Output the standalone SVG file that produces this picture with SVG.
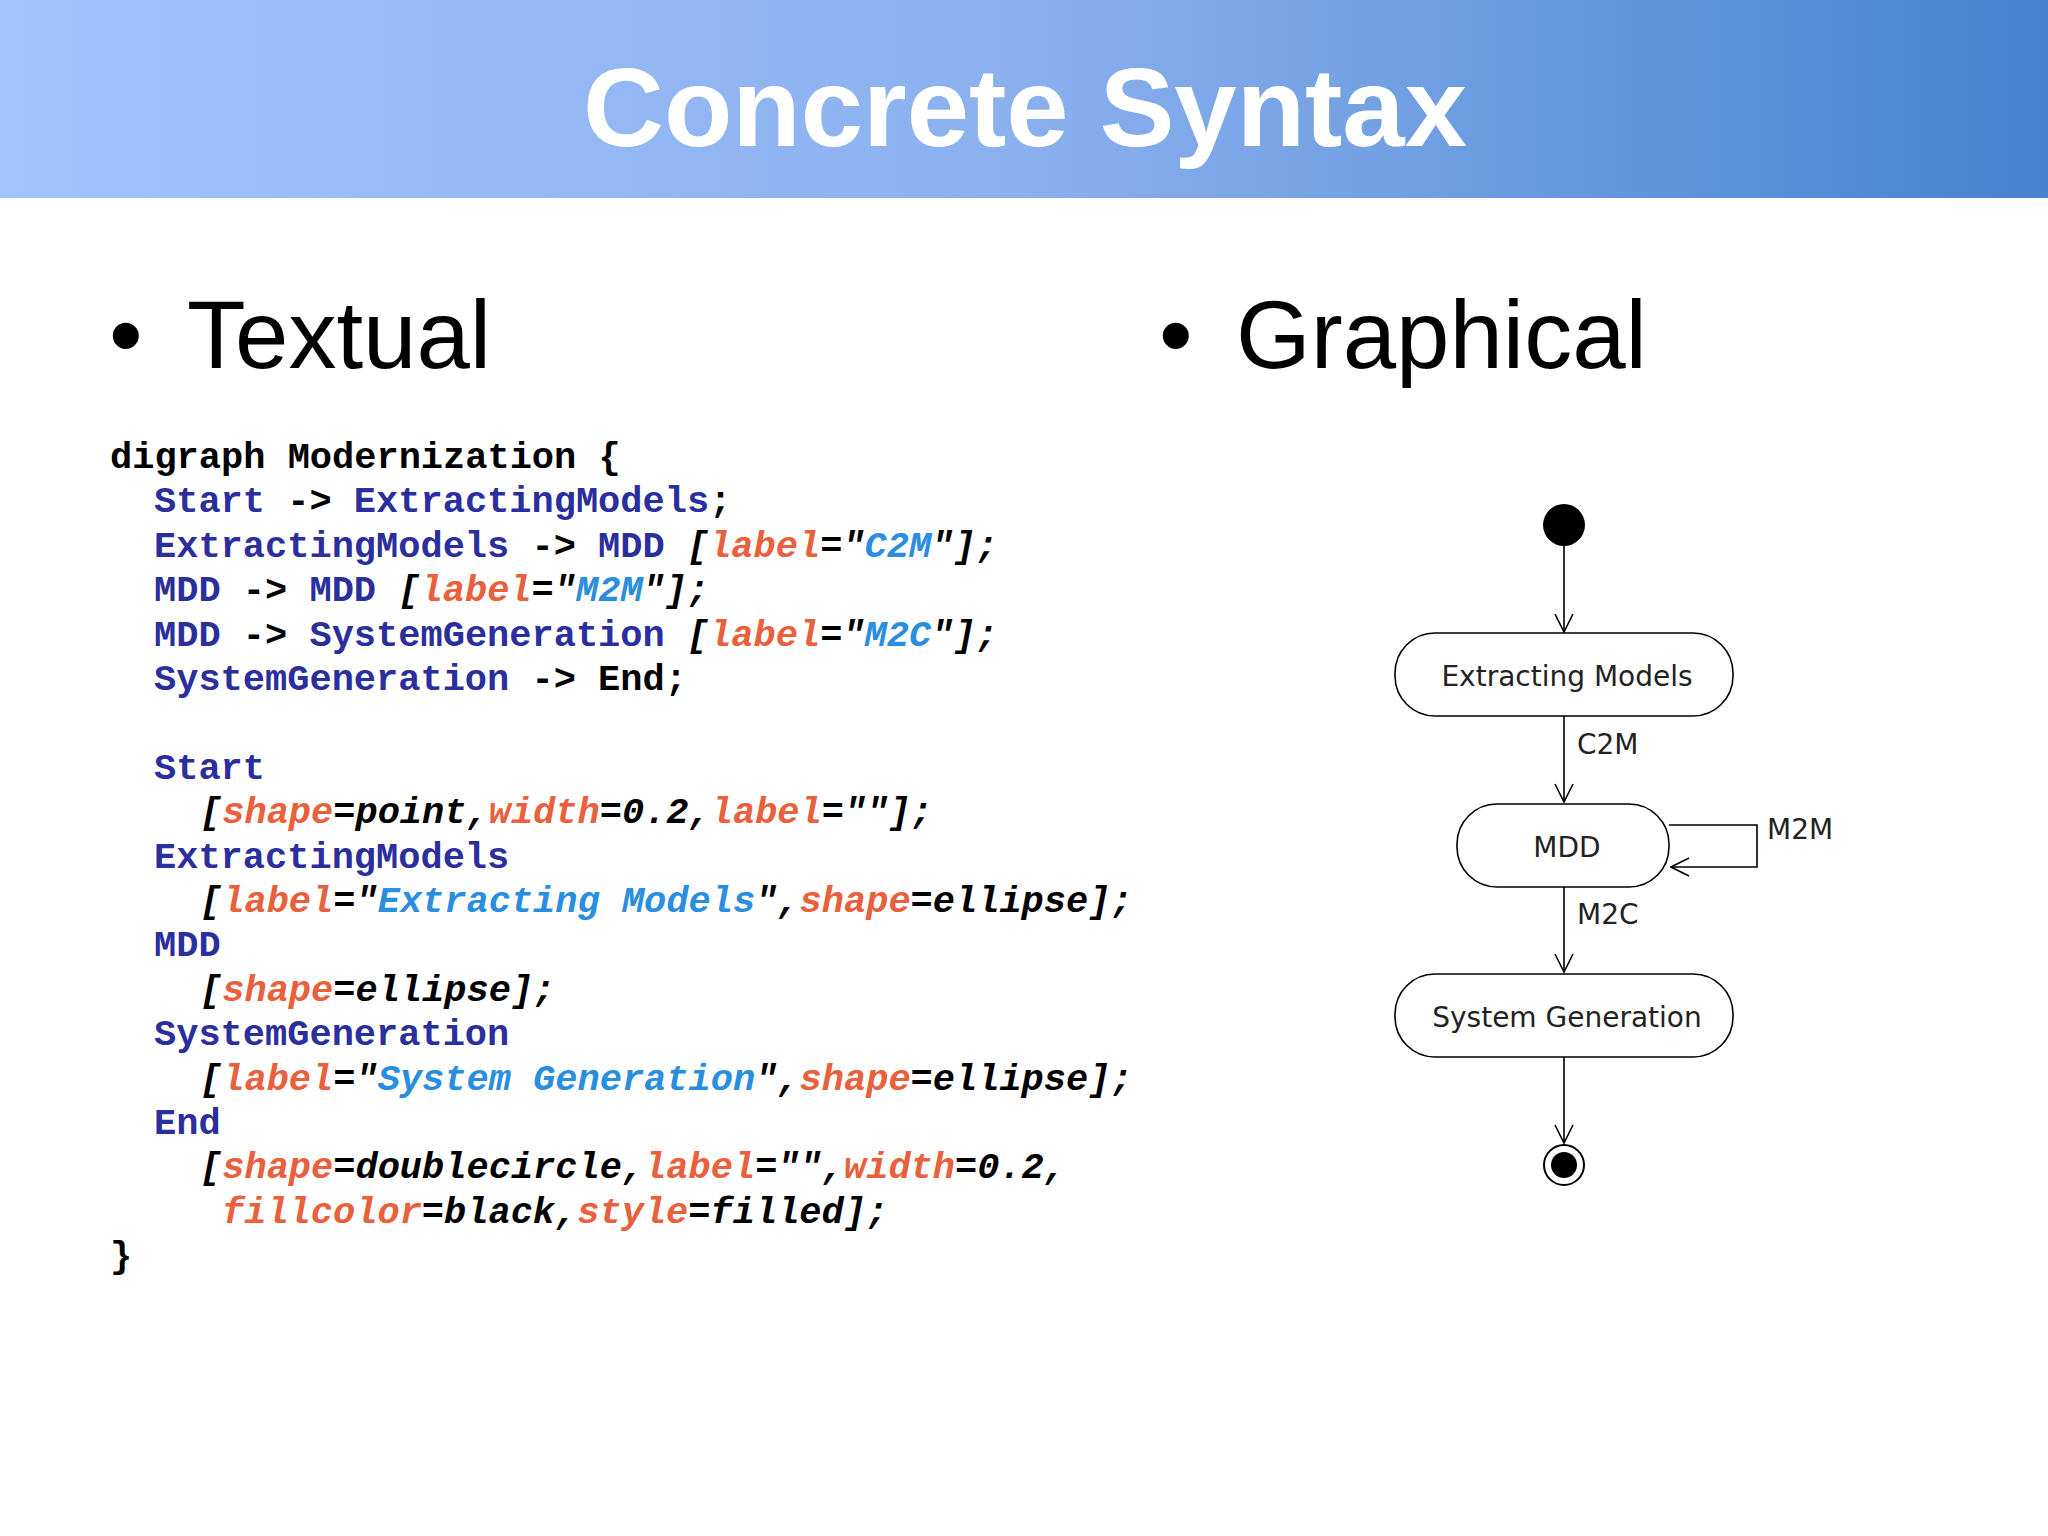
<svg xmlns="http://www.w3.org/2000/svg" width="2048" height="1536" viewBox="0 0 2048 1536">
<defs>
<linearGradient id="hd" x1="0" y1="0" x2="1" y2="0"><stop offset="0" stop-color="#a0c4fc"/><stop offset="0.5" stop-color="#8ab0ee"/><stop offset="1" stop-color="#4683cf"/></linearGradient>
<marker id="ar" viewBox="0 0 20 20" refX="19" refY="10" markerWidth="20" markerHeight="20" markerUnits="userSpaceOnUse" orient="auto"><path d="M1,1 L19,10 L1,19" fill="none" stroke="#000" stroke-width="1.6"/></marker>
</defs>
<style>
.code{font-family:"Liberation Mono",monospace;font-size:37px;font-weight:bold}
.n{fill:#2b2f9e}.a{fill:#e8603c;font-style:italic}.s{fill:#2a8ee0;font-style:italic}.i{font-style:italic}
.node rect{fill:#fff;stroke:#000;stroke-width:1.6}
.lbl{font-family:"DejaVu Sans",sans-serif;font-size:28px;fill:#222}
.edge{stroke:#000;stroke-width:1.6;fill:none}
</style>
<rect width="2048" height="1536" fill="#fff"/>
<rect width="2048" height="198" fill="url(#hd)"/>
<text x="1025" y="146" text-anchor="middle" font-family="Liberation Sans,Arial,sans-serif" font-weight="bold" font-size="112" fill="#fff">Concrete Syntax</text>
<g font-family="Liberation Sans,Arial,sans-serif" font-size="96" fill="#000">
<text x="109" y="368">•</text><text x="187" y="368">Textual</text>
<text x="1159" y="368">•</text><text x="1236" y="368">Graphical</text>
</g>
<g class="code">
<text x="110" y="468">digraph Modernization {</text>
<text x="154" y="512"><tspan class="n">Start</tspan> -&gt; <tspan class="n">ExtractingModels</tspan>;</text>
<text x="154" y="557"><tspan class="n">ExtractingModels</tspan> -&gt; <tspan class="n">MDD</tspan> <tspan class="i">[<tspan class="a">label</tspan>="<tspan class="s">C2M</tspan>"];</tspan></text>
<text x="154" y="601"><tspan class="n">MDD</tspan> -&gt; <tspan class="n">MDD</tspan> <tspan class="i">[<tspan class="a">label</tspan>="<tspan class="s">M2M</tspan>"];</tspan></text>
<text x="154" y="646"><tspan class="n">MDD</tspan> -&gt; <tspan class="n">SystemGeneration</tspan> <tspan class="i">[<tspan class="a">label</tspan>="<tspan class="s">M2C</tspan>"];</tspan></text>
<text x="154" y="690"><tspan class="n">SystemGeneration</tspan> -&gt; End;</text>
<text x="154" y="779"><tspan class="n">Start</tspan></text>
<text x="200" y="823" class="i">[<tspan class="a">shape</tspan>=point,<tspan class="a">width</tspan>=0.2,<tspan class="a">label</tspan>=""];</text>
<text x="154" y="868"><tspan class="n">ExtractingModels</tspan></text>
<text x="200" y="912" class="i">[<tspan class="a">label</tspan>="<tspan class="s">Extracting Models</tspan>",<tspan class="a">shape</tspan>=ellipse];</text>
<text x="154" y="956"><tspan class="n">MDD</tspan></text>
<text x="200" y="1001" class="i">[<tspan class="a">shape</tspan>=ellipse];</text>
<text x="154" y="1045"><tspan class="n">SystemGeneration</tspan></text>
<text x="200" y="1090" class="i">[<tspan class="a">label</tspan>="<tspan class="s">System Generation</tspan>",<tspan class="a">shape</tspan>=ellipse];</text>
<text x="154" y="1134"><tspan class="n">End</tspan></text>
<text x="200" y="1178" class="i">[<tspan class="a">shape</tspan>=doublecircle,<tspan class="a">label</tspan>="",<tspan class="a">width</tspan>=0.2,</text>
<text x="222" y="1223" class="i"><tspan class="a">fillcolor</tspan>=black,<tspan class="a">style</tspan>=filled];</text>
<text x="110" y="1267">}</text>
</g>
<g id="edges">
<path class="edge" d="M1564,546 L1564,632" marker-end="url(#ar)"/>
<path class="edge" d="M1564,716 L1564,802" marker-end="url(#ar)"/>
<path class="edge" d="M1669,825 L1757,825 L1757,867 L1671,867" marker-end="url(#ar)"/>
<path class="edge" d="M1564,887 L1564,972" marker-end="url(#ar)"/>
<path class="edge" d="M1564,1057 L1564,1143" marker-end="url(#ar)"/>
<text class="lbl" x="1577" y="754">C2M</text>
<text class="lbl" x="1767" y="839">M2M</text>
<text class="lbl" x="1577" y="924">M2C</text>
</g>
<g id="start"><circle cx="1564" cy="525" r="21" fill="#000"/></g>
<g id="extracting" class="node"><rect x="1395" y="633" width="338" height="83" rx="40"/><text class="lbl" x="1567" y="686" text-anchor="middle">Extracting Models</text></g>
<g id="mdd" class="node"><rect x="1457" y="804" width="212" height="83" rx="40"/><text class="lbl" x="1567" y="857" text-anchor="middle">MDD</text></g>
<g id="sysgen" class="node"><rect x="1395" y="974" width="338" height="83" rx="40"/><text class="lbl" x="1567" y="1027" text-anchor="middle">System Generation</text></g>
<g id="end"><circle cx="1564" cy="1165" r="20" fill="#fff" stroke="#000" stroke-width="2"/><circle cx="1564" cy="1165" r="13" fill="#000"/></g>
</svg>
